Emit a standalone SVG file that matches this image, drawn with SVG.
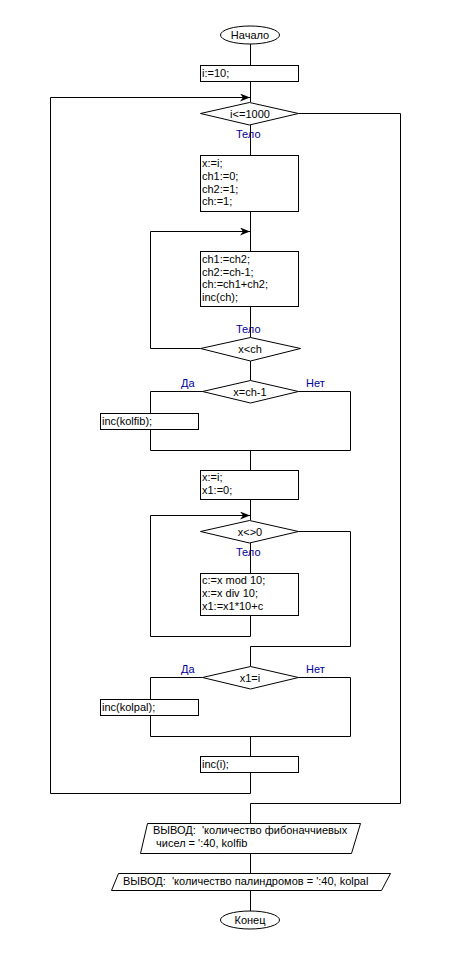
<svg xmlns="http://www.w3.org/2000/svg" width="450" height="955" viewBox="0 0 450 955">
<style>
.s{fill:#fff;stroke:#000;stroke-width:1}
.c{fill:none;stroke:#000;stroke-width:1}
text{font-family:"Liberation Sans",Arial,sans-serif;font-size:11px;fill:#000}
.m{text-anchor:middle}
.b{fill:#000099}
</style>
<defs>
<marker id="ar" markerWidth="10" markerHeight="8" refX="10" refY="4" orient="auto" markerUnits="userSpaceOnUse">
<path d="M0,0 L10,4 L0,8 L3,4 Z" fill="#000"/>
</marker>
</defs>
<rect width="450" height="955" fill="#fff"/>
<g id="labels">
<text class="b" x="236" y="138">Тело</text>
<text class="b" x="236" y="333">Тело</text>
<text class="b" x="236" y="556">Тело</text>
<text class="b" x="181" y="387">Да</text>
<text class="b" x="306" y="387">Нет</text>
<text class="b" x="181" y="673">Да</text>
<text class="b" x="306" y="673">Нет</text>
</g>
<g id="connectors">
<path class="c" d="M250.5,44 V65"/>
<path class="c" d="M250.5,81 V102"/>
<path class="c" d="M250.5,772 V793.5 H50.5 V97.5 H250" marker-end="url(#ar)"/>
<path class="c" d="M298.5,113.5 H400.5 V803.5 H250.5 V823"/>
<path class="c" d="M250.5,125 V155"/>
<path class="c" d="M250.5,211 V251"/>
<path class="c" d="M200.5,348.5 H150.5 V231.5 H250" marker-end="url(#ar)"/>
<path class="c" d="M250.5,306 V337"/>
<path class="c" d="M250.5,361 V380"/>
<path class="c" d="M202.5,391.5 H150.5 V413"/>
<path class="c" d="M150.5,429 V450.5 H350.5 V391.5 H298.5"/>
<path class="c" d="M250.5,450 V470"/>
<path class="c" d="M250.5,499 V520"/>
<path class="c" d="M250.5,543 V573"/>
<path class="c" d="M250.5,615 V636.5 H150.5 V515.5 H250" marker-end="url(#ar)"/>
<path class="c" d="M298.5,531.5 H350.5 V646.5 H250.5 V666"/>
<path class="c" d="M202.5,677.5 H150.5 V699"/>
<path class="c" d="M150.5,715 V736.5 H350.5 V677.5 H298.5"/>
<path class="c" d="M250.5,736 V756"/>
<path class="c" d="M250.5,853 V873"/>
<path class="c" d="M250.5,890 V911"/>
</g>
<g id="start">
<ellipse class="s" cx="250" cy="35" rx="29.5" ry="9"/>
<text class="m" x="250" y="39">Начало</text>
</g>
<g id="n1">
<rect class="s" x="200.5" y="65.5" width="98" height="16"/>
<text x="202" y="77">i:=10;</text>
</g>
<g id="d1">
<polygon class="s" points="249.5,102.5 298.5,113.5 249.5,125 200.5,113.5"/>
<text class="m" x="250" y="117.5">i&lt;=1000</text>
</g>
<g id="n2">
<rect class="s" x="200.5" y="155.5" width="98" height="56"/>
<text x="202" y="167">x:=i;</text>
<text x="202" y="180">ch1:=0;</text>
<text x="202" y="192.5">ch2:=1;</text>
<text x="202" y="205">ch:=1;</text>
</g>
<g id="n3">
<rect class="s" x="200.5" y="251.5" width="98" height="55"/>
<text x="202" y="262.5">ch1:=ch2;</text>
<text x="202" y="275.5">ch2:=ch-1;</text>
<text x="202" y="288">ch:=ch1+ch2;</text>
<text x="202" y="300.5">inc(ch);</text>
</g>
<g id="d2">
<polygon class="s" points="250.5,337.5 300.5,348.5 250.5,361 200.5,348.5"/>
<text class="m" x="250" y="352.5">x&lt;ch</text>
</g>
<g id="d3">
<polygon class="s" points="250.5,380.5 298.5,391.5 250.5,403 202.5,391.5"/>
<text class="m" x="250" y="395.5">x=ch-1</text>
</g>
<g id="n4">
<rect class="s" x="100.5" y="413.5" width="98" height="16"/>
<text x="102" y="425">inc(kolfib);</text>
</g>
<g id="n5">
<rect class="s" x="200.5" y="470.5" width="98" height="29"/>
<text x="202" y="481">x:=i;</text>
<text x="202" y="494">x1:=0;</text>
</g>
<g id="d4">
<polygon class="s" points="249.5,520.5 298.5,531.5 249.5,543 200.5,531.5"/>
<text class="m" x="250" y="535.5">x&lt;&gt;0</text>
</g>
<g id="n6">
<rect class="s" x="200.5" y="573.5" width="98" height="42"/>
<text x="202" y="584">c:=x mod 10;</text>
<text x="202" y="597">x:=x div 10;</text>
<text x="202" y="610">x1:=x1*10+c</text>
</g>
<g id="d5">
<polygon class="s" points="250.5,666.5 298.5,677.5 250.5,689 202.5,677.5"/>
<text class="m" x="250" y="681.5">x1=i</text>
</g>
<g id="n7">
<rect class="s" x="100.5" y="699.5" width="98" height="16"/>
<text x="102" y="711">inc(kolpal);</text>
</g>
<g id="n8">
<rect class="s" x="200.5" y="756.5" width="98" height="16"/>
<text x="202" y="768">inc(i);</text>
</g>
<g id="out1">
<polygon class="s" points="147.5,823.5 360.5,823.5 351.5,853.5 140.5,853.5"/>
<text x="153" y="834" xml:space="preserve">ВЫВОД:  'количество фибоначчиевых</text>
<text x="156" y="847">чисел = ':40, kolfib</text>
</g>
<g id="out2">
<polygon class="s" points="118.5,873.5 390.5,873.5 381.5,890.5 111.5,890.5"/>
<text x="123" y="884.5" xml:space="preserve">ВЫВОД:  'количество палиндромов = ':40, kolpal</text>
</g>
<g id="end">
<ellipse class="s" cx="250" cy="920" rx="29.5" ry="9"/>
<text class="m" x="250" y="924">Конец</text>
</g>
</svg>
